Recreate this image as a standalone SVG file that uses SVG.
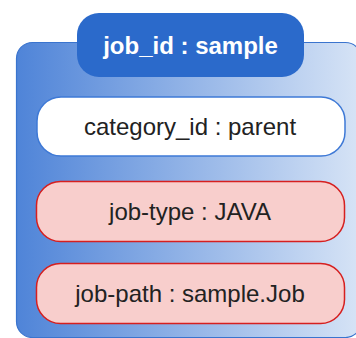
<svg xmlns="http://www.w3.org/2000/svg" width="356" height="338" viewBox="0 0 356 338">
<defs>
<linearGradient id="bg" x1="0" y1="0" x2="1" y2="0">
<stop offset="0" stop-color="#4F84D8"/>
<stop offset="1" stop-color="#D7E4F6"/>
</linearGradient>
<style>
text{font-family:"Liberation Sans",Arial,sans-serif;font-size:24px;text-anchor:middle;fill:#222}
.pink{fill:#F8CECC;stroke:#D61F1F;stroke-width:1.5}
</style>
</defs>
<g id="container">
<rect x="16.5" y="42.5" width="345" height="295" rx="16" fill="url(#bg)" stroke="#3A74CE" stroke-width="1.2"/>
</g>
<g id="header">
<rect x="77" y="13" width="227" height="64" rx="22" fill="#2B6ACB"/>
<text x="190.5" y="54" style="font-weight:bold;fill:#fff">job_id : sample</text>
</g>
<g id="category">
<rect x="37" y="97" width="308" height="59" rx="24" fill="#fff" stroke="#3E79D6" stroke-width="1.5"/>
<text x="190" y="135">category_id : parent</text>
</g>
<g id="jobtype">
<rect x="36.5" y="181.5" width="308" height="60" rx="24" class="pink"/>
<text x="190" y="220">job-type : JAVA</text>
</g>
<g id="jobpath">
<rect x="36.5" y="263.5" width="308" height="60" rx="24" class="pink"/>
<text x="190" y="302">job-path : sample.Job</text>
</g>
<g id="connectors"/>
</svg>
